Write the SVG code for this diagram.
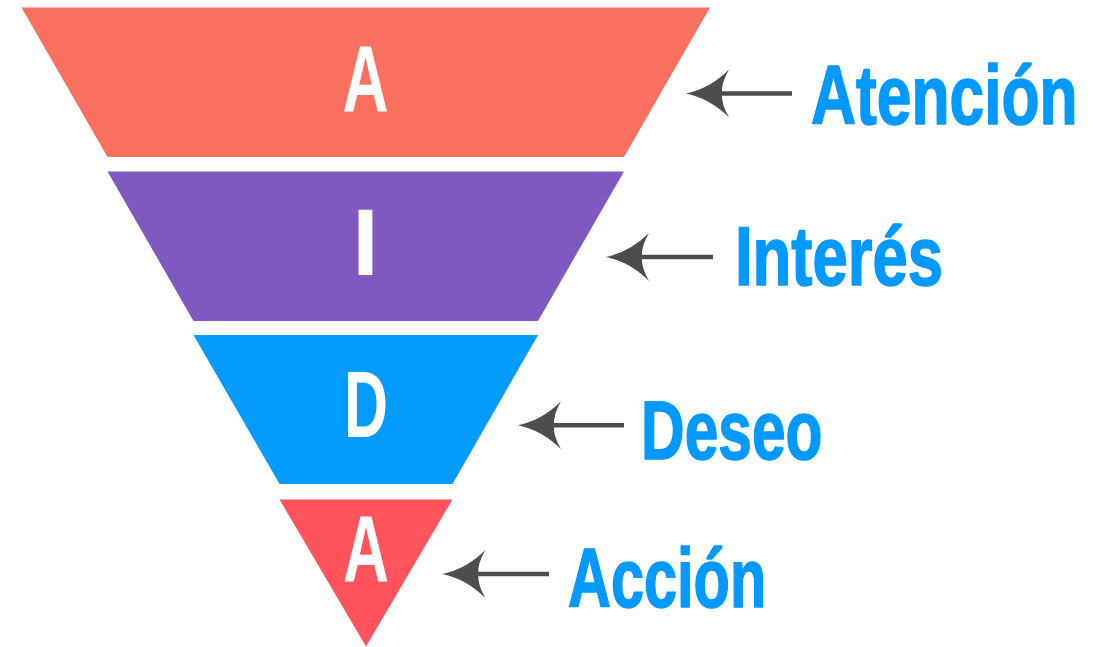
<svg xmlns="http://www.w3.org/2000/svg" width="1105" height="647" viewBox="0 0 1105 647">
  <style>
    .stage-letter { font-family: "Liberation Sans", Arial, sans-serif; font-weight: bold; font-size: 95px; fill: #ffffff; text-anchor: middle; }
    .stage-label { font-family: "Liberation Sans", Arial, sans-serif; font-weight: bold; font-size: 84px; fill: #0099FF; stroke: #0099FF; stroke-width: 1.6; stroke-linejoin: round; }
    .arrow-line { stroke: #4D4D4D; stroke-width: 4.5; fill: none; }
    .arrow-head { fill: #4D4D4D; }
  </style>
  <defs>
    <!-- swept arrowhead, tip at origin pointing left -->
    <path id="head" d="M0,0 Q24,-5 43,-24 Q35,-10 36,0 Q35,10 43,24 Q24,5 0,0 Z"/>
  </defs>
  <rect width="1105" height="647" fill="#ffffff"/>

  <!-- funnel stages -->
  <g id="stage-atencion">
    <polygon points="21.5,7.5 710,7.5 624,157 107.5,157" fill="#FA705E"/>
    <text class="stage-letter" x="365.5" y="112" textLength="46" lengthAdjust="spacingAndGlyphs">A</text>
  </g>
  <g id="stage-interes">
    <polygon points="107.5,171.5 624,171.5 538,321 193.5,321" fill="#7F58C0"/>
    <text class="stage-letter" x="365.5" y="275">I</text>
  </g>
  <g id="stage-deseo">
    <polygon points="193.5,335 538,335 452.5,484 279.5,484" fill="#039BFE"/>
    <text class="stage-letter" x="366" y="437" textLength="44" lengthAdjust="spacingAndGlyphs">D</text>
  </g>
  <g id="stage-accion">
    <polygon points="279.5,499.5 452.5,499.5 366,646.5" fill="#FF545C"/>
    <text class="stage-letter" x="366" y="582" textLength="46" lengthAdjust="spacingAndGlyphs">A</text>
  </g>

  <!-- pointer arrows -->
  <g id="connectors">
    <line class="arrow-line" x1="720" y1="93.5" x2="792" y2="93.5"/>
    <use href="#head" class="arrow-head" x="686" y="93.5"/>
    <line class="arrow-line" x1="640" y1="257" x2="713" y2="257"/>
    <use href="#head" class="arrow-head" x="606" y="257"/>
    <line class="arrow-line" x1="552" y1="425.3" x2="624" y2="425.3"/>
    <use href="#head" class="arrow-head" x="518" y="425.3"/>
    <line class="arrow-line" x1="476" y1="574" x2="549" y2="574"/>
    <use href="#head" class="arrow-head" x="442.3" y="574"/>
  </g>

  <!-- stage names, condensed horizontally -->
  <g id="label-atencion">
    <text class="stage-label" transform="translate(811 123.5) scale(0.742 1)">Atención</text>
  </g>
  <g id="label-interes">
    <text class="stage-label" font-size="85" transform="translate(735 285) scale(0.755 1)">Interés</text>
  </g>
  <g id="label-deseo">
    <text class="stage-label" transform="translate(641 458.5) scale(0.72 1)">Deseo</text>
  </g>
  <g id="label-accion">
    <text class="stage-label" transform="translate(568 607) scale(0.708 1)">Acción</text>
  </g>
</svg>
